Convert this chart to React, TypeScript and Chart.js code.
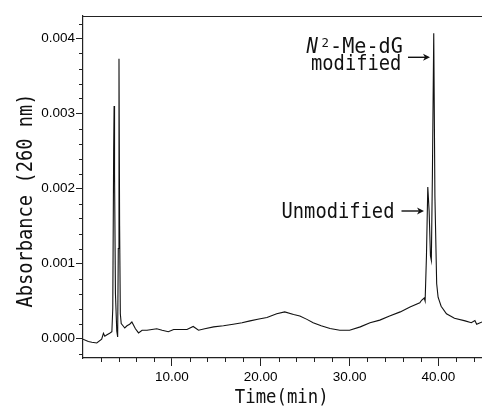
import React, { useEffect, useRef } from "react";
import { Chart, registerables } from "chart.js";

Chart.register(...registerables);

// Retention time (min)
const times: number[] = [
  0, 0.6, 1.0, 1.55, 2.1, 2.3, 2.45, 2.7, 3.0, 3.25, 3.35, 3.45, 3.5, 3.55, 3.65, 3.8, 3.9, 3.97, 4.05, 4.12,
  4.2, 4.3, 4.5, 4.7, 4.95, 5.25, 5.5, 5.9, 6.25, 6.65, 7.2, 7.75, 8.3, 8.9, 9.6, 10.2, 10.9, 11.7, 12.4, 13.0,
  13.7, 14.7, 15.8, 16.9, 17.9, 18.8, 19.8, 20.7, 21.8, 22.7, 23.7, 24.4, 25.2, 25.9, 26.8, 27.8, 28.9, 30.0,
  31.2, 32.3, 33.4, 34.5, 35.7, 36.8, 37.9, 38.1, 38.4, 38.5, 38.65, 38.8, 38.95, 39.1, 39.2, 39.32, 39.47,
  39.6, 39.8, 39.96, 40.3, 40.9, 41.8, 43.0, 43.7, 44.1, 44.3, 44.9,
];

// Absorbance at 260 nm
const absorbance: number[] = [
  -0.00001, -0.00004, -0.00005, -0.00006, -0.00001, 0.00007, 0.00003, 0.00005, 0.00007, 0.00009, 0.0004,
  0.0025, 0.0031, 0.0022, 0.0006, 0.0001, 0.00002, 0.0012, 0.00373, 0.0015,
  0.00033, 0.0002, 0.00017, 0.00014, 0.00017, 0.00019, 0.00022, 0.00013, 0.000075, 0.00011, 0.00011, 0.00012,
  0.00013, 0.00011, 0.00009, 0.00012, 0.00012, 0.00012, 0.00016, 0.00011,
  0.00013, 0.000155, 0.00017, 0.00019, 0.00021, 0.000235, 0.00026, 0.00028, 0.00033, 0.000355, 0.00032, 0.0003,
  0.000255, 0.00021, 0.00017, 0.000133, 0.00011, 0.00011,
  0.000155, 0.00021, 0.000245, 0.0003, 0.000355, 0.00042, 0.000475, 0.00051, 0.00054, 0.0005, 0.0011, 0.00202,
  0.0017, 0.0011, 0.00104, 0.0022, 0.00407,
  0.0019, 0.00073, 0.00055, 0.00043, 0.00033, 0.00027, 0.000235, 0.00021, 0.00024, 0.00019, 0.00022,
];

const xMajorTicks: number[] = [10, 20, 30, 40];
const xMinorTicks: number[] = [2, 4, 6, 8, 12, 14, 16, 18, 22, 24, 26, 28, 32, 34, 36, 38, 42, 44];
const yMajorTicks: number[] = [0, 0.001, 0.002, 0.003, 0.004];
const yMinorTicks: number[] = [
  -0.0002, 0.0002, 0.0004, 0.0006, 0.0008, 0.0012, 0.0014, 0.0016, 0.0018, 0.0022, 0.0024, 0.0026, 0.0028,
  0.0032, 0.0034, 0.0036, 0.0038, 0.0042,
];

const yTitle = "Absorbance (260 nm)";
const xTitle = "Time(min)";
const labelUnmodified = "Unmodified";
const labelModifiedTop = ["N", "2", "-Me-dG"];
const labelModifiedBottom = "modified";

const MONO = '"DejaVu Sans Mono", monospace';
const INK = "#111";

function drawText(
  ctx: CanvasRenderingContext2D,
  text: string,
  x: number,
  y: number,
  size: number,
  kx: number,
  align: CanvasTextAlign = "left",
  style = ""
) {
  ctx.save();
  ctx.font = `${style} ${size}px ${MONO}`;
  ctx.fillStyle = INK;
  ctx.textAlign = align;
  ctx.textBaseline = "alphabetic";
  ctx.translate(x, y);
  ctx.scale(kx, 1);
  ctx.fillText(text, 0, 0);
  ctx.restore();
}

function drawArrow(ctx: CanvasRenderingContext2D, x1: number, x2: number, y: number) {
  ctx.save();
  ctx.strokeStyle = INK;
  ctx.fillStyle = INK;
  ctx.lineWidth = 1.4;
  ctx.beginPath();
  ctx.moveTo(x1, y);
  ctx.lineTo(x2 - 3, y);
  ctx.stroke();
  ctx.beginPath();
  ctx.moveTo(x2, y);
  ctx.lineTo(x2 - 7, y - 3.5);
  ctx.lineTo(x2 - 5, y);
  ctx.lineTo(x2 - 7, y + 3.5);
  ctx.closePath();
  ctx.fill();
  ctx.restore();
}

const decorPlugin = {
  id: "decor",
  afterDraw(chart: any) {
    const ctx: CanvasRenderingContext2D = chart.ctx;
    const { left, right, top, bottom } = chart.chartArea;
    const xs = chart.scales.x;
    const ys = chart.scales.y;
    ctx.save();
    ctx.strokeStyle = "#222";
    ctx.lineWidth = 1;
    // minor ticks
    ctx.beginPath();
    xMinorTicks.forEach((v) => {
      const px = Math.round(xs.getPixelForValue(v)) + 0.5;
      ctx.moveTo(px, bottom);
      ctx.lineTo(px, bottom + 4);
    });
    yMinorTicks.forEach((v) => {
      const py = Math.round(ys.getPixelForValue(v)) + 0.5;
      ctx.moveTo(left, py);
      ctx.lineTo(left - 4, py);
    });
    ctx.stroke();
    // top frame line
    ctx.lineWidth = 1.2;
    ctx.beginPath();
    ctx.moveTo(left, top + 0.5);
    ctx.lineTo(right, top + 0.5);
    ctx.stroke();
    ctx.restore();

    // axis titles
    ctx.save();
    ctx.translate(31.5, 200.5);
    ctx.rotate(-Math.PI / 2);
    drawText(ctx, yTitle, 0, 0, 22, 0.85, "center");
    ctx.restore();
    drawText(ctx, xTitle, 281.7, 402.5, 19, 0.91, "center");

    // annotations
    drawText(ctx, labelUnmodified, 281.5, 218.3, 20.5, 0.915, "left");
    drawArrow(ctx, 401.5, 424, 211);

    drawText(ctx, labelModifiedTop[0], 306.5, 53.3, 21, 0.9, "left", "italic");
    drawText(ctx, labelModifiedTop[1], 321.5, 46.5, 13, 0.95, "left");
    drawText(ctx, labelModifiedTop[2], 330, 53.3, 21, 0.96, "left");
    drawText(ctx, labelModifiedBottom, 311, 70, 20.5, 0.915, "left");
    drawArrow(ctx, 408, 430, 57.3);
  },
};

export default function App() {
  const ref = useRef<HTMLCanvasElement | null>(null);

  useEffect(() => {
    if (!ref.current) return;
    const points = times.map((t, i) => ({ x: t, y: absorbance[i] }));
    const tickFont = { family: '"Liberation Sans", Arial, sans-serif', size: 13.5 };
    const chart = new Chart(ref.current, {
      type: "line",
      data: {
        datasets: [
          {
            data: points,
            borderColor: "#111",
            borderWidth: 1.1,
            pointRadius: 0,
            tension: 0,
            fill: false,
          },
        ],
      },
      options: {
        animation: false,
        responsive: false,
        devicePixelRatio: 1,
        layout: { padding: { top: 16, right: 0, left: 0, bottom: 0 } },
        plugins: { legend: { display: false }, tooltip: { enabled: false }, title: { display: false } },
        scales: {
          x: {
            type: "linear",
            min: 0,
            max: 44.9,
            afterBuildTicks: (s: any) => {
              s.ticks = xMajorTicks.map((v) => ({ value: v }));
            },
            afterFit: (s: any) => {
              s.height = 48;
            },
            ticks: {
              callback: (v: any) => Number(v).toFixed(2),
              font: tickFont,
              color: "#000",
              padding: 3,
              maxRotation: 0,
              autoSkip: false,
            },
            grid: { display: true, drawOnChartArea: false, drawTicks: true, tickLength: 8, color: "#222", lineWidth: 1 },
            border: { display: true, color: "#222", width: 1.2 },
          },
          y: {
            type: "linear",
            min: -0.00026,
            max: 0.0043,
            afterBuildTicks: (s: any) => {
              s.ticks = yMajorTicks.map((v) => ({ value: v }));
            },
            afterFit: (s: any) => {
              s.width = 83;
            },
            ticks: {
              callback: (v: any) => Number(v).toFixed(3),
              font: tickFont,
              color: "#000",
              padding: 1,
              autoSkip: false,
            },
            grid: { display: true, drawOnChartArea: false, drawTicks: true, tickLength: 7, color: "#222", lineWidth: 1 },
            border: { display: true, color: "#222", width: 1.2 },
          },
        },
      },
      plugins: [decorPlugin],
    });
    return () => chart.destroy();
  }, []);

  return (
    <div style={{ position: "fixed", left: 0, top: 0, width: 482, height: 406, background: "#fff" }}>
      <canvas ref={ref} width={482} height={406} style={{ display: "block", width: 482, height: 406 }} />
    </div>
  );
}
